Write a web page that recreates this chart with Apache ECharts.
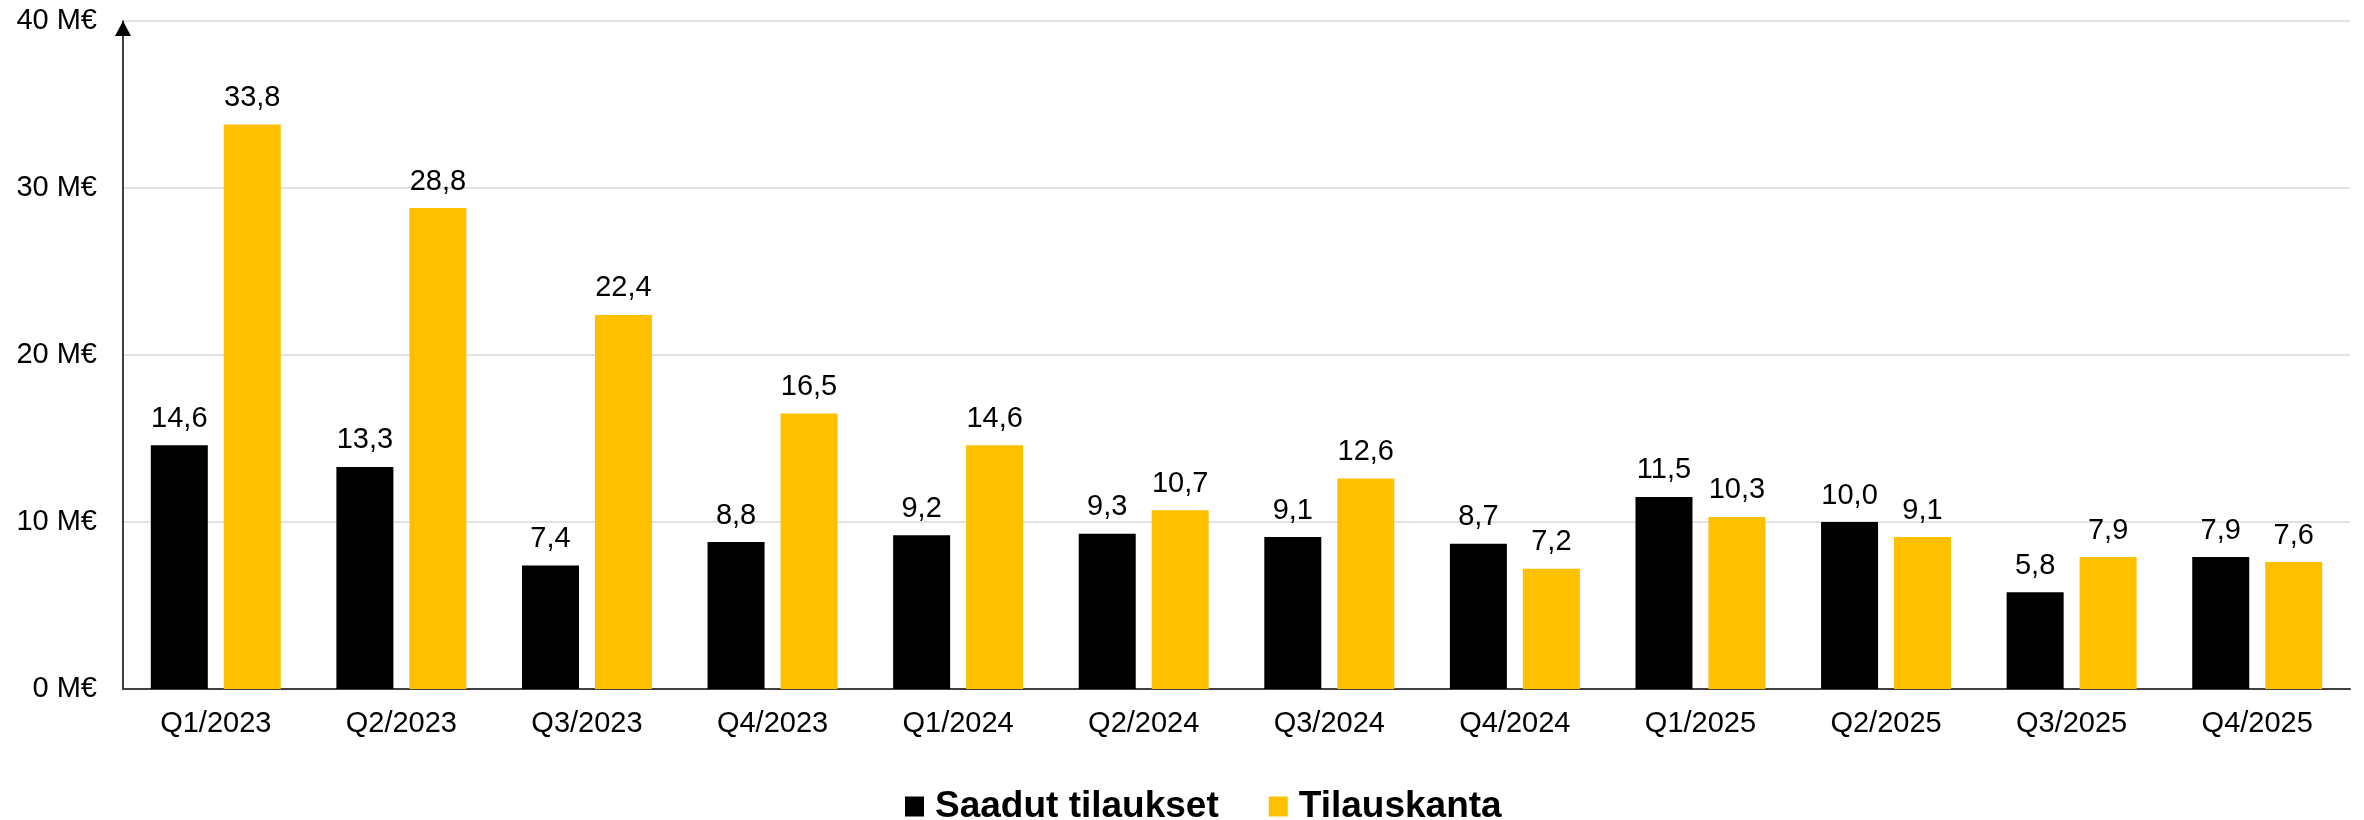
<!DOCTYPE html>
<html>
<head>
<meta charset="utf-8">
<script src="https://cdn.jsdelivr.net/npm/echarts@6/dist/echarts.min.js"></script>
<style>
  html, body { margin: 0; padding: 0; background: #fff; }
  #chart { width: 2364px; height: 820px; }
</style>
</head>
<body>
<div id="chart"></div>
<script>
const categories = ['Q1/2023', 'Q2/2023', 'Q3/2023', 'Q4/2023', 'Q1/2024', 'Q2/2024',
  'Q3/2024', 'Q4/2024', 'Q1/2025', 'Q2/2025', 'Q3/2025', 'Q4/2025']
const saadutTilaukset = [14.6, 13.3, 7.4, 8.8, 9.2, 9.3, 9.1, 8.7, 11.5, 10.0, 5.8, 7.9]
const tilauskanta = [33.8, 28.8, 22.4, 16.5, 14.6, 10.7, 12.6, 7.2, 10.3, 9.1, 7.9, 7.6]
const yTicks = [0, 10, 20, 30, 40]

const font = '"Liberation Sans", Arial, sans-serif'
const fmt = (v) => v.toFixed(1).replace('.', ',')

const chart = echarts.init(document.getElementById('chart'))
const barLabel = {
  show: true,
  position: 'top',
  distance: 12,
  color: '#000',
  fontFamily: font,
  fontSize: 29,
  formatter: (p) => fmt(p.value),
}

chart.setOption({
  animation: false,
  grid: { left: 123, right: 14, top: 21, bottom: 131 },
  legend: {
    top: 783,
    left: 900,
    itemWidth: 19,
    itemHeight: 20,
    itemGap: 50,
    icon: 'rect',
    textStyle: {
      fontFamily: font,
      fontWeight: 'bold',
      fontSize: 37,
      color: '#000',
      padding: [0, 0, 0, 6],
    },
  },
  xAxis: {
    type: 'category',
    data: categories,
    axisTick: { show: false },
    axisLine: { lineStyle: { color: '#404040', width: 2 } },
    axisLabel: { color: '#000', fontFamily: font, fontSize: 29, margin: 20 },
  },
  yAxis: {
    type: 'value',
    min: yTicks[0],
    max: yTicks[yTicks.length - 1],
    interval: 10,
    axisLine: {
      show: true,
      symbol: ['none', 'triangle'],
      symbolSize: [16, 15],
      symbolOffset: [0, -7.5],
      lineStyle: { color: '#000', width: 1.5 },
    },
    splitLine: { lineStyle: { color: '#d9d9d9', width: 1.5 } },
    axisLabel: {
      color: '#000',
      fontFamily: font,
      fontSize: 29,
      margin: 26,
      formatter: (v) => v + ' M€',
    },
  },
  series: [
    {
      name: 'Saadut tilaukset',
      type: 'bar',
      data: saadutTilaukset,
      barWidth: 57,
      barGap: '28%',
      itemStyle: { color: '#000000' },
      label: barLabel,
    },
    {
      name: 'Tilauskanta',
      type: 'bar',
      data: tilauskanta,
      barWidth: 57,
      itemStyle: { color: '#FFC000' },
      label: barLabel,
    },
  ],
})
</script>
</body>
</html>
